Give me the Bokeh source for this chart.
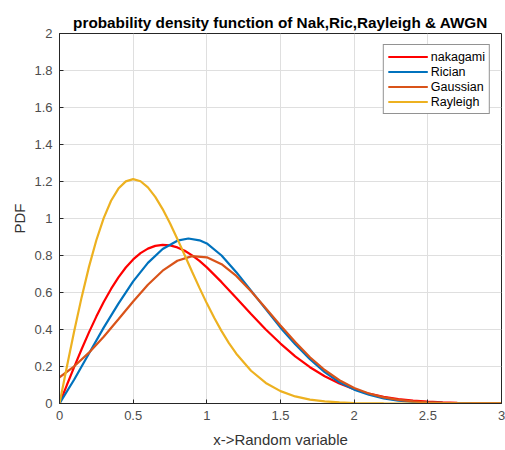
from bokeh.plotting import figure
from bokeh.models import Range1d, FixedTicker
from bokeh.embed import file_html
from bokeh.resources import INLINE

# ---- data ----
x_nak = [0, 0.05, 0.1, 0.15, 0.2, 0.25, 0.3, 0.35, 0.4, 0.45, 0.5, 0.55, 0.6, 0.65, 0.7,
         0.75, 0.8, 0.85, 0.9, 0.95, 1.0, 1.1, 1.2, 1.3, 1.4, 1.5, 1.6, 1.7, 1.8, 1.9,
         2.0, 2.1, 2.2, 2.3, 2.4, 2.5, 2.6, 2.7, 2.8, 2.9, 3.0]
y_nak = [0, 0.0998, 0.198, 0.2933, 0.3843, 0.4697, 0.5484, 0.6193, 0.6817, 0.7350, 0.7788,
         0.8129, 0.8372, 0.8520, 0.8577, 0.8547, 0.8437, 0.8254, 0.8007, 0.7706, 0.7358,
         0.6560, 0.5700, 0.4840, 0.4000, 0.3240, 0.2550, 0.1960, 0.1470, 0.1080, 0.0770,
         0.0530, 0.0360, 0.0240, 0.0155, 0.0100, 0.0062, 0.0038, 0.0022, 0.0013, 0.0007]

x_ric = [0, 0.1, 0.2, 0.3, 0.4, 0.5, 0.6, 0.7, 0.8, 0.875, 0.95, 1.0, 1.1, 1.2, 1.3,
         1.4, 1.5, 1.6, 1.7, 1.8, 1.9, 2.0, 2.1, 2.2, 2.3, 2.4, 2.5, 2.6, 2.8, 3.0]
y_ric = [0, 0.13, 0.27, 0.41, 0.54, 0.66, 0.76, 0.835, 0.88, 0.892, 0.882, 0.865, 0.80,
         0.71, 0.61, 0.51, 0.41, 0.32, 0.24, 0.17, 0.115, 0.075, 0.047, 0.028, 0.016,
         0.009, 0.005, 0.003, 0.001, 0.0]

x_gau = [0, 0.1, 0.2, 0.3, 0.4, 0.5, 0.6, 0.7, 0.8, 0.9, 1.0, 1.1, 1.2, 1.3, 1.4, 1.5,
         1.6, 1.7, 1.8, 1.9, 2.0, 2.1, 2.2, 2.3, 2.4, 2.5, 2.6, 2.7, 2.8, 2.9, 3.0]
y_gau = [0.1415, 0.2012, 0.2749, 0.3608, 0.4550, 0.5513, 0.6418, 0.7179, 0.7715, 0.7966,
         0.7902, 0.7532, 0.6897, 0.6069, 0.5150, 0.4220, 0.3320, 0.2500, 0.1810, 0.1260,
         0.0840, 0.0540, 0.0330, 0.0195, 0.0110, 0.0060, 0.0032, 0.0016, 0.0008, 0.0004, 0.0002]

x_ray = [0, 0.05, 0.1, 0.15, 0.2, 0.25, 0.3, 0.35, 0.4, 0.45, 0.5, 0.55, 0.6, 0.65, 0.7,
         0.75, 0.8, 0.85, 0.9, 0.95, 1.0, 1.05, 1.1, 1.15, 1.2, 1.3, 1.4, 1.5, 1.6, 1.7,
         1.8, 1.9, 2.0, 2.2, 2.5, 3.0]
y_ray = [0, 0.1990, 0.3921, 0.5736, 0.7385, 0.8825, 1.0023, 1.0958, 1.1618, 1.2006, 1.2131,
         1.2014, 1.1682, 1.1169, 1.0509, 0.9740, 0.8897, 0.8015, 0.7124, 0.6250, 0.5413,
         0.4631, 0.3913, 0.3266, 0.2694, 0.1770, 0.1111, 0.0667, 0.0382, 0.0210, 0.0110,
         0.0056, 0.0027, 0.0006, 0.0, 0.0]

series_names = ["nakagami", "Rician", "Gaussian", "Rayleigh"]

x_ticks = [0, 0.5, 1, 1.5, 2, 2.5, 3]
x_tick_labels = ["0", "0.5", "1", "1.5", "2", "2.5", "3"]
y_ticks = [0, 0.2, 0.4, 0.6, 0.8, 1.0, 1.2, 1.4, 1.6, 1.8, 2.0]
y_tick_labels = ["0", "0.2", "0.4", "0.6", "0.8", "1", "1.2", "1.4", "1.6", "1.8", "2"]

# ---- styling ----
FONT = "Liberation Sans"
AX = "#262626"
TXT = "#4d4d4d"
colors = ["#FF0000", "#0072BD", "#D95319", "#EDB120"]

p = figure(width=505, height=450, x_range=Range1d(0, 3), y_range=Range1d(0, 2),
           output_backend="svg", toolbar_location=None,
           min_border_left=59, min_border_right=4, min_border_top=33, min_border_bottom=45)

p.title.text = "probability density function of Nak,Ric,Rayleigh & AWGN"
p.title.align = "center"
p.title.text_font = FONT
p.title.text_font_size = "15.3px"
p.title.text_font_style = "bold"
p.title.text_color = "#000000"
p.title.offset = 0
p.title.standoff = 6

p.outline_line_color = AX
p.outline_line_width = 1
p.outline_line_alpha = 1

for ax, ticks, labels in ((p.xaxis[0], x_ticks, x_tick_labels), (p.yaxis[0], y_ticks, y_tick_labels)):
    ax.ticker = FixedTicker(ticks=ticks)
    ax.major_label_overrides = {t: l for t, l in zip(ticks, labels)}
    ax.major_tick_in = 4
    ax.major_tick_out = 0
    ax.minor_tick_line_color = None
    ax.axis_line_color = AX
    ax.major_tick_line_color = AX
    ax.major_label_text_font = FONT
    ax.major_label_text_font_size = "13px"
    ax.major_label_text_color = TXT
    ax.axis_label_text_font = FONT
    ax.axis_label_text_font_size = "15px"
    ax.axis_label_text_font_style = "normal"
    ax.axis_label_text_color = "#333333"

p.xaxis.axis_label = "x->Random variable"
p.yaxis.axis_label = "PDF"
p.xaxis.major_label_standoff = 7
p.xaxis.axis_label_standoff = 8
p.yaxis.major_label_standoff = 7
p.yaxis.axis_label_standoff = 3

p.xgrid.ticker = FixedTicker(ticks=x_ticks)
p.ygrid.ticker = FixedTicker(ticks=y_ticks)
p.grid.grid_line_color = "#dfdfdf"
p.grid.grid_line_width = 1

data = [(x_nak, y_nak), (x_ric, y_ric), (x_gau, y_gau), (x_ray, y_ray)]
for (xs, ys), name, c in zip(data, series_names, colors):
    p.line(xs, ys, line_color=c, line_width=2.2, legend_label=name)

lg = p.legend[0]
lg.location = "top_right"
lg.margin = 11
lg.padding = 4
lg.spacing = 0
lg.glyph_width = 40
lg.glyph_height = 15
lg.label_height = 15
lg.label_standoff = 3
lg.label_text_font = FONT
lg.label_text_font_size = "12.5px"
lg.label_text_color = "#000000"
lg.label_text_baseline = "middle"
lg.border_line_color = AX
lg.border_line_width = 1
lg.background_fill_color = "white"
lg.background_fill_alpha = 1

open("out.html", "w").write(file_html(p, INLINE))
